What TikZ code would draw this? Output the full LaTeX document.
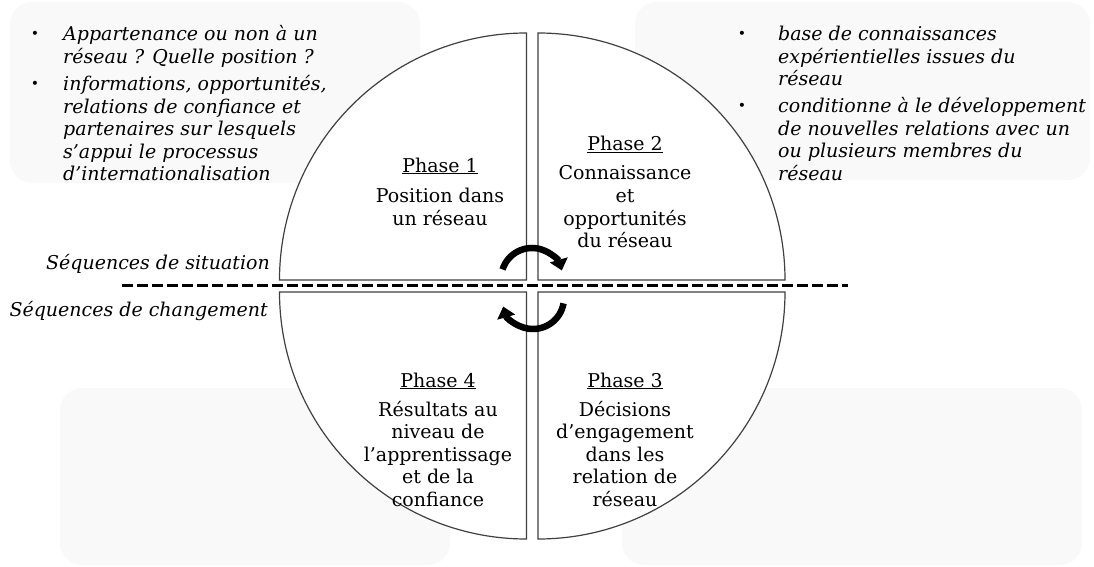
\documentclass[tikz,border=0pt]{standalone}
\usepackage{fontspec}
\setmainfont{DejaVu Serif}
\usetikzlibrary{arrows.meta}
\begin{document}
\begin{tikzpicture}[x=1pt,y=1pt,
  bg/.style={fill=black!2.5, draw=none, rounded corners=22pt},
  quad/.style={draw=black!75, line width=1.2pt, fill=white},
  txt/.style={inner sep=0pt, font=\fontsize{19}{22.5}\selectfont},
  itxt/.style={txt, font=\fontsize{19}{22.5}\selectfont\itshape},
  bul/.style={inner sep=0pt, font=\fontsize{14}{15}\selectfont},
  cyc/.style={line width=6.5pt, -{Triangle[width=18pt,length=11pt]}},
  sepline/.style={line width=3.3pt, dash pattern=on 11pt off 4pt},
]
\useasboundingbox (0,0) rectangle (1094,566);
% background boxes
\fill[bg] (10,383) rectangle (420,564);
\fill[bg] (635,386) rectangle (1090,564);
\fill[bg] (60,1) rectangle (450,178);
\fill[bg] (622,1) rectangle (1082,178);
% quadrants
\coordinate (c1) at (526.5,286);
\coordinate (c2) at (538,286);
\coordinate (c3) at (526.5,274);
\coordinate (c4) at (538,274);
\draw[quad] (c1) -- ++(-247,0) arc[start angle=180,end angle=90,radius=247] -- cycle;
\draw[quad] (c2) -- ++(0,247) arc[start angle=90,end angle=0,radius=247] -- cycle;
\draw[quad] (c4) -- ++(247,0) arc[start angle=0,end angle=-90,radius=247] -- cycle;
\draw[quad] (c3) -- ++(0,-247) arc[start angle=270,end angle=180,radius=247] -- cycle;
% dashed separator
\coordinate (sl) at (122,280.5);
\coordinate (sr) at (848,280.5);
\draw[sepline] (sl) -- (sr);
% cycle arrows
\coordinate (tc) at (532,287);
\coordinate (bc) at (533,268);
\draw[cyc] (tc) ++(162:31) arc[start angle=162,end angle=16,radius=31];
\draw[cyc] (bc) ++(-10:31) arc[start angle=-10,end angle=-164,radius=31];
% side labels
\node[itxt, anchor=base east] (sit) at (270,297) {Séquences de situation};
\node[itxt, anchor=base east] (chg) at (268,250) {Séquences de changement};
% phases
\node[txt, anchor=base] (p1) at (440,394) {\underline{Phase 1}};
\node[txt, anchor=base] (p1t) at (440,363) {\begin{tabular}[t]{@{}c@{}}Position dans\\un réseau\end{tabular}};
\node[txt, anchor=base] (p2) at (625,415) {\underline{Phase 2}};
\node[txt, anchor=base] (p2t) at (625,386) {\begin{tabular}[t]{@{}c@{}}Connaissance\\et\\opportunités\\du réseau\end{tabular}};
\node[txt, anchor=base] (p4) at (438,179) {\underline{Phase 4}};
\node[txt, anchor=base] (p4t) at (438,150) {\begin{tabular}[t]{@{}c@{}}Résultats au\\niveau de\\l’apprentissage\\et de la\\confiance\end{tabular}};
\node[txt, anchor=base] (p3) at (625,179) {\underline{Phase 3}};
\node[txt, anchor=base] (p3t) at (625,150) {\begin{tabular}[t]{@{}c@{}}Décisions\\d’engagement\\dans les\\relation de\\réseau\end{tabular}};
% top-left list
\node[bul, anchor=base] (b1) at (35,527) {•};
\node[itxt, anchor=base west] (l1) at (63,525) {\begin{tabular}[t]{@{}l@{}}Appartenance ou non à un\\réseau ? Quelle position ?\end{tabular}};
\node[bul, anchor=base] (b2) at (35,477) {•};
\node[itxt, anchor=base west] (l2) at (63,475) {\begin{tabular}[t]{@{}l@{}}informations, opportunités,\\relations de confiance et\\partenaires sur lesquels\\s’appui le processus\\d’internationalisation\end{tabular}};
% top-right list
\node[bul, anchor=base] (b3) at (742,527) {•};
\node[itxt, anchor=base west] (r1) at (778,525) {\begin{tabular}[t]{@{}l@{}}base de connaissances\\expérientielles issues du\\réseau\end{tabular}};
\node[bul, anchor=base] (b4) at (742,455) {•};
\node[itxt, anchor=base west] (r2) at (778,453) {\begin{tabular}[t]{@{}l@{}}conditionne à le développement\\de nouvelles relations avec un\\ou plusieurs membres du\\réseau\end{tabular}};
\end{tikzpicture}
\end{document}
